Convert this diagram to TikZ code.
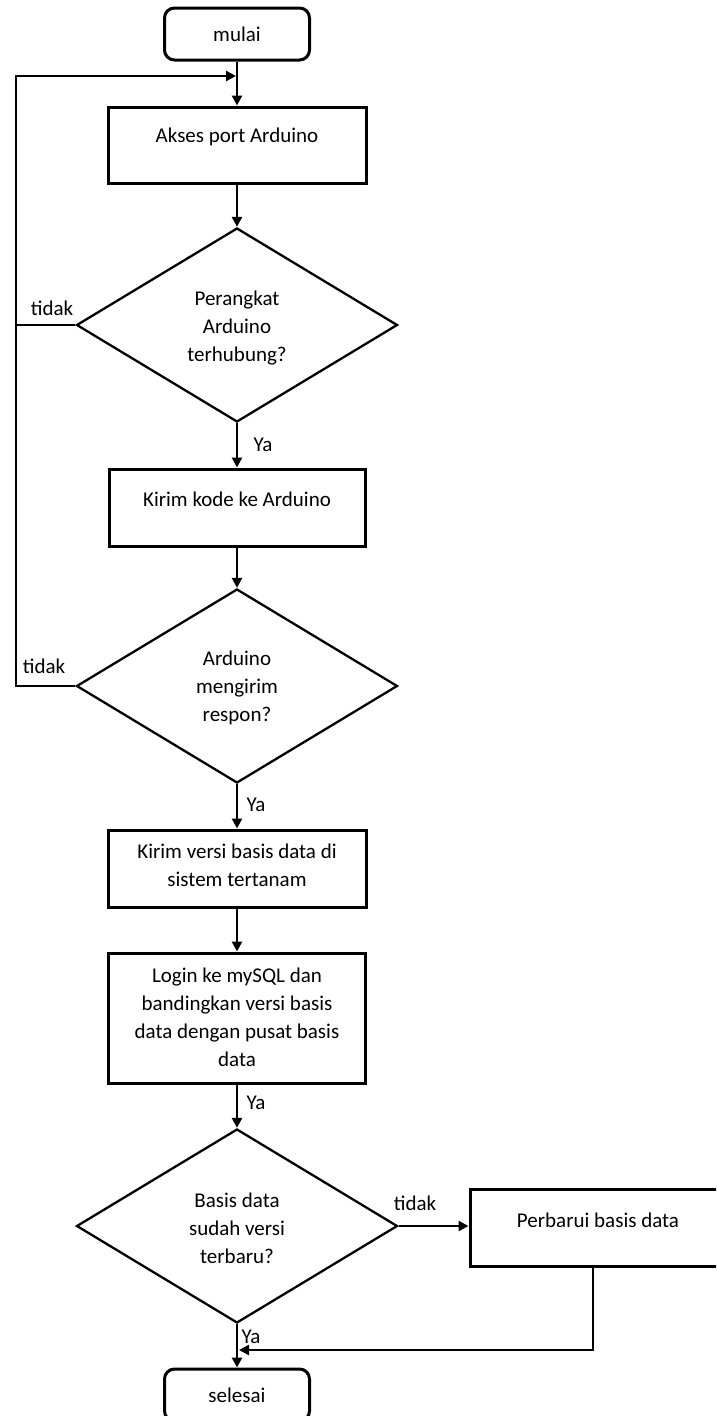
\documentclass[tikz,border=0pt]{standalone}
\usepackage{fontspec}
\setmainfont{Carlito}
\usetikzlibrary{arrows.meta,shapes.geometric}
\begin{document}
\begin{tikzpicture}[x=1pt,y=-1pt,
  every node/.style={font=\fontsize{21}{28}\selectfont},
  proc/.style={draw, line width=3pt, inner sep=0pt},
  term/.style={draw, line width=3pt, rounded corners=10pt, inner sep=0pt, minimum width=145pt, minimum height=52pt},
  decision/.style={draw, diamond, line width=2.3pt, inner sep=0pt, minimum width=321pt, minimum height=194pt},
  txt/.style={align=center, inner sep=0pt},
  lbl/.style={inner sep=0pt},
  conn/.style={line width=2.8pt},
  arr/.style={conn, -{Triangle[length=10pt,width=10pt]}}]
\useasboundingbox (0,0) rectangle (716,1416);
\clip (0,0) rectangle (716,1416);

\node[term] (mulai) at (237,34) {mulai};
\node[proc, minimum width=258pt, minimum height=76pt] (akses) at (237,145) {};
\node[txt] (aksesT) at (237,137) {Akses port Arduino};

\node[decision] (d1) at (237,325) {};
\node[txt] (d1T) at (237,328) {Perangkat\\Arduino\\terhubung?};
\node[lbl] (t1) at (52,308) {tidak};
\node[lbl] (y1) at (263,445) {Ya};

\node[proc, minimum width=256pt, minimum height=77pt] (kirim) at (237,507.5) {};
\node[txt] (kirimT) at (237,499) {Kirim kode ke Arduino};

\node[decision] (d2) at (237,686) {};
\node[txt] (d2T) at (237,688) {Arduino\\mengirim\\respon?};
\node[lbl] (t2) at (44,666) {tidak};
\node[lbl] (y2) at (256,805) {Ya};

\node[proc, minimum width=258pt, minimum height=77pt] (versi) at (237,868.5) {};
\node[txt] (versiT) at (237,865.5) {Kirim versi basis data di\\sistem tertanam};

\node[proc, minimum width=257pt, minimum height=130pt] (login) at (236.5,1018) {};
\node[txt] (loginT) at (237,1017.5) {Login ke mySQL dan\\bandingkan versi basis\\data dengan pusat basis\\data};
\node[lbl] (y3) at (256,1103) {Ya};

\node[decision] (d3) at (237,1226) {};
\node[txt] (d3T) at (237,1228) {Basis data\\sudah versi\\terbaru?};
\node[lbl] (t3) at (415,1203) {tidak};

\node[proc, minimum width=257pt, minimum height=77pt] (upd) at (598.5,1227.5) {};
\node[txt] (updT) at (598,1220) {Perbarui basis data};
\node[lbl] (y4) at (251,1337) {Ya};

\node[term] (selesai) at (237,1395) {selesai};

% connectors
\draw[arr] (mulai) -- (akses);
\draw[arr] (akses) -- (d1);
\draw[arr] (d1) -- (kirim);
\draw[arr] (kirim) -- (d2);
\draw[arr] (d2) -- (versi);
\draw[arr] (versi.south) -- (versi.south |- login.north);
\draw[arr] (login.south -| d3.north) -- (d3.north);
\draw[arr] (d3.east) -- (d3.east -| upd.west);
\draw[arr] (d3) -- (selesai);

\coordinate (l1) at (16,325);
\coordinate (l2) at (16,686);
\coordinate (ltop) at (16,76);
\coordinate (ljoin) at (236,76);
\draw[conn] (d1.west) -- (l1);
\draw[arr] (d2.west) -- (l2) -- (ltop) -- (ljoin);

\coordinate (ub) at ([xshift=-5.5pt]upd.south);
\coordinate (uc) at (593,1350);
\coordinate (mj) at (239,1350);
\draw[arr] (ub) -- (uc) -- (mj);
\end{tikzpicture}
\end{document}
